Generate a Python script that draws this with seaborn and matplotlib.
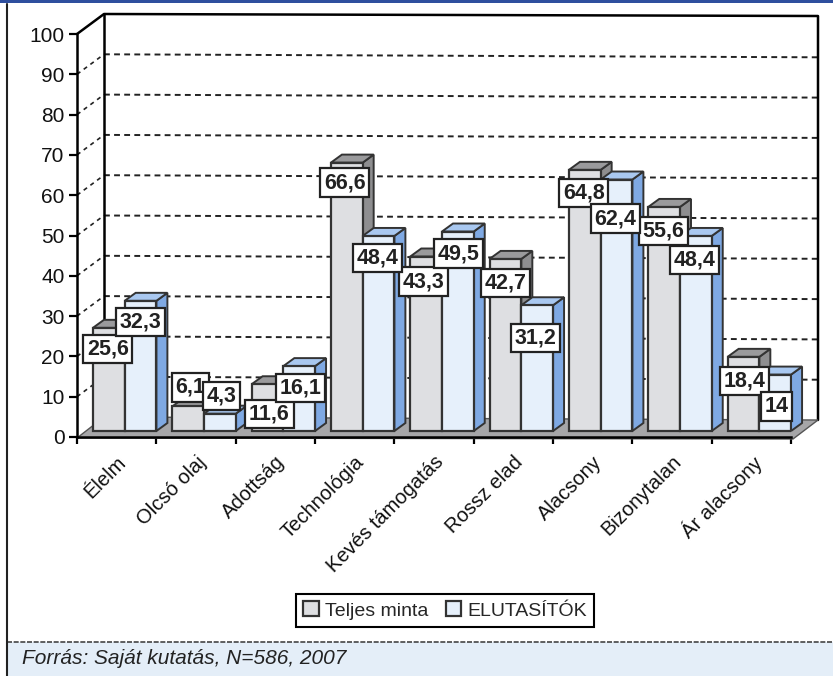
import pandas as pd
import matplotlib
matplotlib.use('Agg')
import matplotlib.pyplot as plt
import seaborn as sns
from matplotlib.patches import Polygon, Rectangle
from matplotlib.transforms import Affine2D, IdentityTransform

categories = ['Élelm', 'Olcsó olaj', 'Adottság', 'Technológia', 'Kevés támogatás',
              'Rossz elad', 'Alacsony', 'Bizonytalan', 'Ár alacsony']
teljes = [25.6, 6.1, 11.6, 66.6, 43.3, 42.7, 64.8, 55.6, 18.4]
elutasitok = [32.3, 4.3, 16.1, 48.4, 49.5, 31.2, 62.4, 48.4, 14]
series_names = ['Teljes minta', 'ELUTASÍTÓK']

# kézzel igazított címkék (pixel, a bár tetejéhez képest)
label_dx = [[-1, 2, 2, -2, -3, 0, -1, -1, 1], [0, 2, 1, -1, 1, -2, -1, -1, 1]]
label_dy = [[21, -19, 30, 20, 25, 24, 23, 24, 24], [21, -18, 22, 22, 22, 33, 39, 24, 32]]

W, H = 833, 676
DEPTH_X, DEPTH_Y = 27, 20
BAR_SHIFT_X, BAR_SHIFT_Y = 8, 6
SIDE_X, SIDE_Y = 11, 8
front_colors = ['#dedfe2', '#e6f0fb']
side_colors = ['#8e8e90', '#7fa9e3']
top_colors = ['#9a9a9c', '#a9c8f0']
edge = '#333333'

sns.set_theme(style='ticks')
plt.rcParams['font.family'] = ['Liberation Sans', 'DejaVu Sans']

df = pd.DataFrame({
    'cat': categories * 2,
    'value': teljes + elutasitok,
    'series': [series_names[0]] * len(teljes) + [series_names[1]] * len(elutasitok),
})

fig = plt.figure(figsize=(W / 100, H / 100), dpi=100, facecolor='white')
ax = fig.add_axes([77 / W, 1 - 437 / H, (791 - 77) / W, (437 - 34) / H])
ax.patch.set_alpha(0)

sns.barplot(data=df, x='cat', y='value', hue='series', ax=ax, width=0.8, gap=0,
            palette=front_colors, edgecolor=edge, linewidth=1.6, saturation=1, errorbar=None)
ax.set_xlim(-0.5, 8.5)
ax.set_ylim(0, 100)
ax.set_xlabel('')
ax.set_ylabel('')

# pixel coords, origin top left
px = Affine2D().scale(1, -1).translate(0, H)

# hátsó fal, rácsvonalak
for v in range(10, 100, 10):
    y_left = 437 - v * 4.03
    ax.plot([77, 77 + DEPTH_X], [y_left, y_left - DEPTH_Y], transform=px, color='#222222', lw=1.2,
            ls=(0, (2.5, 2.5)), clip_on=False, zorder=1)
    ax.plot([104, 818], [y_left - DEPTH_Y, y_left - DEPTH_Y + 3], transform=px, color='#222222', lw=1.4,
            ls=(0, (3, 2.2)), clip_on=False, zorder=1)
ax.plot([77, 104, 818, 818], [34, 14, 16, 420], transform=px, color='black', lw=1.8, clip_on=False, zorder=1)
ax.plot([104, 104], [14, 417], transform=px, color='black', lw=1.8, clip_on=False, zorder=1)
ax.add_patch(Polygon([(77, 438), (104, 417), (818, 420), (793, 439)], closed=True, transform=px,
                     facecolor='#a6a6a8', edgecolor='#555555', lw=1, clip_on=False, zorder=1.5))

# bárok 3D oldala
shift = ax.transData + Affine2D().translate(BAR_SHIFT_X, BAR_SHIFT_Y)
for s, container in enumerate(ax.containers):
    for i, bar in enumerate(container):
        x0 = bar.get_x()
        x1 = x0 + bar.get_width()
        h = bar.get_height()
        bar.set_transform(shift)
        bar.set_zorder(3 + 2 * s + 1)
        (lx, by), (rx, ty) = shift.transform([(x0, 0), (x1, h)])
        side = [(rx, by), (rx + SIDE_X, by + SIDE_Y), (rx + SIDE_X, ty + SIDE_Y), (rx, ty)]
        top = [(lx, ty), (lx + SIDE_X, ty + SIDE_Y), (rx + SIDE_X, ty + SIDE_Y), (rx, ty)]
        for pts, col in ((side, side_colors[s]), (top, top_colors[s])):
            ax.add_patch(Polygon(pts, closed=True, transform=IdentityTransform(), facecolor=col,
                                 edgecolor=edge, lw=1.4, clip_on=False, zorder=3 + 2 * s))
        txt = str(h).replace('.0', '').replace('.', ',')
        ax.annotate(txt, xy=(x0 + bar.get_width() / 2, h), xycoords=shift,
                    xytext=(label_dx[s][i] * 0.72, -label_dy[s][i] * 0.72), textcoords='offset points',
                    ha='center', va='center', fontsize=15.5, fontweight='bold', color='#222222',
                    bbox=dict(boxstyle='square,pad=0.17', fc='white', ec='#222222', lw=1.6),
                    zorder=8 + s, annotation_clip=False)

# tengelyek
sns.despine(ax=ax, top=True, right=True)
ax.spines['left'].set_linewidth(1.8)
ax.spines['bottom'].set_linewidth(1.8)
ax.spines['left'].set_color('black')
ax.spines['bottom'].set_color('black')
ax.spines['left'].set_zorder(2)
ax.spines['bottom'].set_zorder(2)
ax.set_yticks(range(0, 101, 10))
ax.tick_params(axis='y', length=5.5, width=1.6, color='black', labelsize=15, pad=3.5, labelcolor='#111111')
ax.set_xticks([i - 0.5 for i in range(10)], minor=True)
ax.tick_params(axis='x', which='minor', length=5, width=1.6, color='black')
ax.tick_params(axis='x', which='major', length=0, pad=11, labelsize=14.5, labelcolor='#111111')
plt.setp(ax.get_xticklabels(), rotation=45, ha='right', rotation_mode='anchor')

sns.move_legend(ax, 'center', bbox_to_anchor=(445 / W, 1 - 610.5 / H), bbox_transform=fig.transFigure,
                ncol=2, title=None, frameon=True, fancybox=False, framealpha=1, edgecolor='black',
                fontsize=14, handlelength=0.8, handleheight=0.8, handletextpad=0.3, columnspacing=0.9,
                borderpad=0.4, borderaxespad=0)
ax.get_legend().get_frame().set_linewidth(1.5)

# keret, lábléc
fig.add_artist(Rectangle((0, 1 - 3 / H), 1, 3 / H, transform=fig.transFigure, fc='#2f4f9e', ec='none'))
fig.add_artist(Rectangle((7 / W, 0), 1 - 7 / W, 34 / H, transform=fig.transFigure, fc='#e4eef8', ec='none'))
fig.add_artist(plt.Line2D([7 / W, 1], [34 / H, 34 / H], color='#444444', lw=1.2, ls=(0, (3, 1))))
fig.add_artist(plt.Line2D([7 / W, 7 / W], [0, 1 - 4 / H], color='#222222', lw=1.5))
fig.text(22 / W, 1 - 659 / H, 'Forrás: Saját kutatás, N=586, 2007', fontsize=15, style='italic',
         color='#222222', va='center', ha='left')

fig.savefig('out.png', dpi=100)
